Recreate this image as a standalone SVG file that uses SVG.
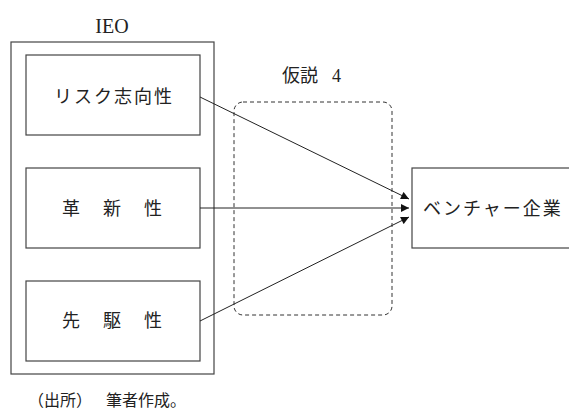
<svg xmlns="http://www.w3.org/2000/svg" width="569" height="413" viewBox="0 0 569 413">
<style>
.box{fill:#fff;stroke:#444;stroke-width:1.2}
.t{font-family:"Liberation Serif","Noto Sans CJK JP",serif;fill:#222}
.c{stroke:#222;stroke-width:1;fill:none}
</style>
<defs>
<marker id="ah" viewBox="0 0 10 10" refX="10" refY="5" markerWidth="10" markerHeight="8" markerUnits="userSpaceOnUse" orient="auto">
<path d="M0,0 L10,5 L0,10 Z" fill="#111"/>
</marker>
</defs>
<rect width="569" height="413" fill="#fff"/>
<g id="ieo">
<rect class="box" x="11" y="42" width="203" height="332"/>
<text class="t" x="112" y="33" font-size="20" text-anchor="middle">IEO</text>
</g>
<g id="hypothesis">
<rect x="234" y="102" width="158" height="213" rx="9" fill="none" stroke="#333" stroke-width="1" stroke-dasharray="4,3"/>
<text class="t" y="82" font-size="18"><tspan x="282">仮説</tspan><tspan x="332">4</tspan></text>
</g>
<g id="risk">
<rect class="box" x="26" y="55" width="174" height="80"/>
<text class="t" x="114" y="103" font-size="18" letter-spacing="2" text-anchor="middle">リスク志向性</text>
</g>
<g id="innov">
<rect class="box" x="26" y="168" width="174" height="80"/>
<text class="t" y="215" font-size="18" text-anchor="middle"><tspan x="71">革</tspan><tspan x="112">新</tspan><tspan x="153">性</tspan></text>
</g>
<g id="pro">
<rect class="box" x="26" y="281" width="174" height="80"/>
<text class="t" y="327" font-size="18" text-anchor="middle"><tspan x="71">先</tspan><tspan x="112">駆</tspan><tspan x="153">性</tspan></text>
</g>
<g id="venture">
<rect class="box" x="412" y="168" width="170" height="80"/>
<text class="t" x="423" y="215" font-size="18" letter-spacing="2">ベンチャー企業</text>
</g>
<g id="connectors">
<line class="c" x1="200" y1="97" x2="409" y2="199" marker-end="url(#ah)"/>
<line class="c" x1="200" y1="208" x2="409" y2="208" marker-end="url(#ah)"/>
<line class="c" x1="200" y1="321" x2="409" y2="217" marker-end="url(#ah)"/>
</g>
<text class="t" y="406" font-size="16"><tspan x="28">（出所）</tspan><tspan x="106">筆者作成。</tspan></text>
</svg>
